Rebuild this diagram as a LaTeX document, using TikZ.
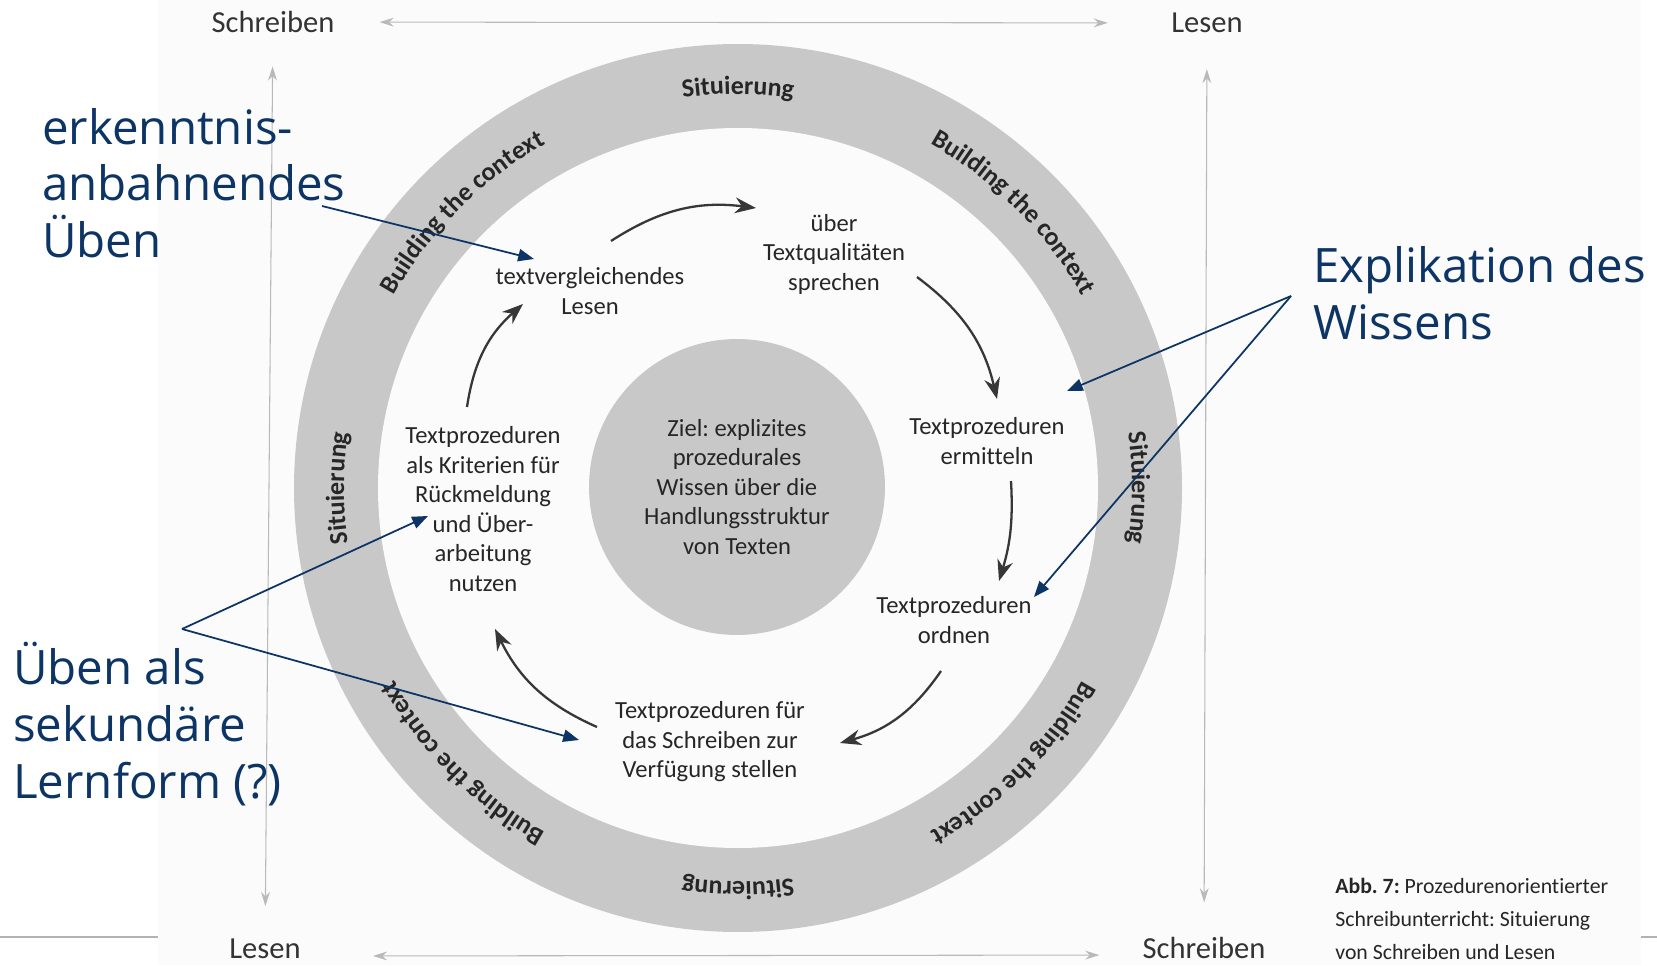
\documentclass[tikz,border=0pt]{standalone}
\usepackage{fontspec}
\setmainfont{Carlito}[Ligatures=NoCommon]
\newfontfamily\notefont{Open Sans}
\usetikzlibrary{positioning, arrows.meta, decorations.text}
\frenchspacing

\definecolor{ringgray}{RGB}{200,200,200}
\definecolor{notecol}{RGB}{12,52,100}
\definecolor{scanbg}{RGB}{251,251,251}
\definecolor{cyclecol}{RGB}{55,55,55}
\definecolor{axiscol}{RGB}{185,185,185}

\newcommand\ringfont{\fontsize{14.8pt}{16pt}\selectfont\bfseries}

\tikzset{
x=0.02cm, y=0.02cm, % one unit is one pixel of the scan
stage/.style={align=center, text=black!85, font=\fontsize{14pt}{16.8pt}\selectfont}, % the steps of the cycle
axis label/.style={inner sep=0pt, text=black!80, font=\fontsize{17.4pt}{20pt}\selectfont}, % Schreiben / Lesen in the corners
axis arrow/.style={{Stealth[length=8pt,width=5pt]}-{Stealth[length=8pt,width=5pt]}, draw=axiscol, line width=0.6pt},
cycle arrow/.style={-{Stealth[length=12pt,width=9pt]}, draw=cyclecol, line width=1.3pt, bend left=20},
note/.style={align=left, inner sep=0pt, text=notecol, font=\notefont\fontsize{27pt}{32.3pt}\selectfont}, % blue remarks
note arrow/.style={-{Triangle[length=9pt,width=7pt]}, draw=notecol, line width=1pt},
ring text/.style={decorate, decoration={text along path, text align=center, text color=black!85, text={|\ringfont|#1}}},
caption/.style={align=left, inner sep=0pt, text=black!85, font=\fontsize{12.4pt}{18.7pt}\selectfont},
}

\begin{document}
\begin{tikzpicture}
    \useasboundingbox (0,0) rectangle (1657,965);
    \draw[gray!60, line width=1.5pt] (0,28) -- (1657,28);
    \fill[scanbg] (158,0) rectangle (1641,965);

    \coordinate (CTR) at (738,477);
    \fill[ringgray] (CTR) circle[radius=444];
    \fill[scanbg] (CTR) circle[radius=360];

    \path[ring text=Situierung] (CTR) ++(120:394) arc[start angle=120, end angle=60, radius=394];
    \path[ring text=Situierung] (CTR) ++(30:394) arc[start angle=30, end angle=-30, radius=394];
    \path[ring text=Situierung] (CTR) ++(300:394) arc[start angle=300, end angle=240, radius=394];
    \path[ring text=Situierung] (CTR) ++(210:394) arc[start angle=210, end angle=150, radius=394];
    \path[ring text=Building the context] (CTR) ++(175:394) arc[start angle=175, end angle=95, radius=394];
    \path[ring text=Building the context] (CTR) ++(85:394) arc[start angle=85, end angle=5, radius=394];
    \path[ring text=Building the context] (CTR) ++(-5:394) arc[start angle=-5, end angle=-85, radius=394];
    \path[ring text=Building the context] (CTR) ++(-95:394) arc[start angle=-95, end angle=-175, radius=394];

    \node[stage, circle, fill=ringgray, minimum size=5.92cm] (ziel) at (737,478) {Ziel: explizites\\prozedurales\\Wissen über die\\Handlungsstruktur\\von Texten};
    \node[stage] (vgl) at (590,674) {textvergleichendes\\Lesen};
    \node[stage] (qual) at (834,711) {über\\Textqualitäten\\sprechen};
    \node[stage] (ermitteln) at (987,524) {Textprozeduren\\ermitteln};
    \node[stage] (ordnen) at (954,345) {Textprozeduren\\ordnen};
    \node[stage] (bereit) at (710,223) {Textprozeduren für\\das Schreiben zur\\Verfügung stellen};
    \node[stage] (nutzen) at (483,456) {Textprozeduren\\als Kriterien für\\Rückmeldung\\und Über-\\arbeitung\\nutzen};

    \draw[cycle arrow] ([shift={(21,50)}]vgl.center) to ([shift={(-78,46)}]qual.center);
    \draw[cycle arrow] ([shift={(83,-23)}]qual.center) to ([shift={(10,42)}]ermitteln.center);
    \draw[cycle arrow, bend left=10] ([shift={(24,-40)}]ermitteln.center) to ([shift={(45,39)}]ordnen.center);
    \draw[cycle arrow] ([shift={(-13,-51)}]ordnen.center) to ([shift={(130,-1)}]bereit.center);
    \draw[cycle arrow] ([shift={(-113,15)}]bereit.center) to ([shift={(12,-120)}]nutzen.center);
    \draw[cycle arrow] ([shift={(-16,102)}]nutzen.center) to ([shift={(-67,-13)}]vgl.center);

    \node[axis label] (SCHREIBENo) at (273,943) {Schreiben};
    \node[axis label] (LESENo) at (1207,942) {Lesen};
    \node[axis label] (LESENu) at (265,16) {Lesen};
    \node[axis label] (SCHREIBENu) at (1204,17) {Schreiben};
    \draw[axis arrow, shorten <=25.5pt, shorten >=36pt] (SCHREIBENo) -- (LESENo);
    \draw[axis arrow, shorten <=19pt, shorten >=18.6pt] (SCHREIBENo) -- (LESENu);
    \draw[axis arrow, shorten <=20.4pt, shorten >=19.7pt] (LESENo) -- (SCHREIBENu);
    \draw[axis arrow, shorten <=41pt, shorten >=24.4pt] ([yshift=-4pt]LESENu.east) -- ([yshift=-4pt]SCHREIBENu.west);

    \node[caption, anchor=west] (abb) at (1335,46) {\textbf{Abb. 7:} Prozedurenorientierter\\Schreibunterricht: Situierung\\von Schreiben und Lesen};

    \node[note, anchor=west] (erk) at (42,782) {erkenntnis-\\anbahnendes\\Üben};
    \node[note, anchor=west] (expl) at (1313,672) {Explikation des\\Wissens};
    \node[note, anchor=west] (sek) at (13,241) {Üben als\\sekundäre\\Lernform (?)};

    \draw[note arrow] ([shift={(280,-23)}]erk.west) -- ([shift={(-56,32)}]vgl.center);
    \draw[note arrow] ([shift={(-22,-3)}]expl.west) -- ([shift={(80,50)}]ermitteln.center);
    \draw[note arrow] ([shift={(-22,-3)}]expl.west) -- ([shift={(80,23)}]ordnen.center);
    \draw[note arrow] ([shift={(169,95)}]sek.west) -- ([shift={(-55,-7)}]nutzen.center);
    \draw[note arrow] ([shift={(169,95)}]sek.west) -- ([shift={(-131,2)}]bereit.center);
\end{tikzpicture}
\end{document}
